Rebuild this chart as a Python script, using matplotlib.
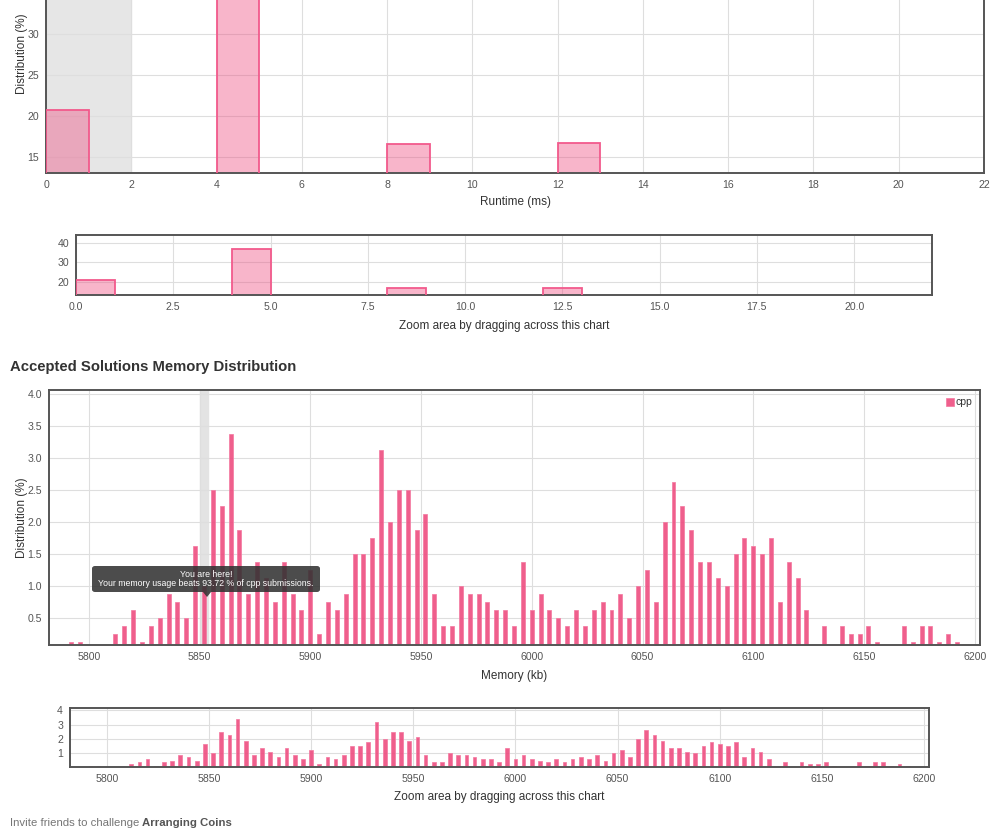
import matplotlib
matplotlib.use("Agg")
import matplotlib.pyplot as plt
from matplotlib.patches import FancyBboxPatch, Polygon

plt.rcParams['font.family'] = ['Liberation Sans', 'DejaVu Sans']

# runtime histogram (ms bins, % of submissions)
rt_bins = [0, 4, 8, 12]
rt_pct = [20.8, 36.7, 16.6, 16.7]
rt_you = (0, 2)

# memory histogram (kb bins, % of submissions)
mem_bins = list(range(5792, 6196, 4))
mem_pct = [0.13, 0.13, 0, 0, 0, 0.25, 0.38, 0.63, 0.13, 0.38,
           0.50, 0.88, 0.75, 0.50, 1.63, 1.00, 2.51, 2.26, 3.39, 1.88,
           0.88, 1.38, 1.13, 0.75, 1.38, 0.88, 0.63, 1.26, 0.25, 0.75,
           0.63, 0.88, 1.51,
           1.51, 1.76, 3.14, 2.01, 2.51, 2.51, 1.88, 2.14, 0.88, 0.38,
           0.38, 1.00, 0.88, 0.88, 0.75, 0.63, 0.63, 0.38, 1.38, 0.63,
           0.88, 0.63, 0.50, 0.38, 0.63, 0.38, 0.63, 0.75, 0.63, 0.88,
           0.50,
           1.00, 1.26, 0.75, 2.01, 2.64, 2.26, 1.88, 1.38, 1.38, 1.13,
           1.00, 1.51, 1.76, 1.63, 1.51, 1.76, 0.75, 1.38, 1.13, 0.63,
           0, 0.38, 0, 0.38, 0.25, 0.25, 0.38, 0.13, 0, 0,
           0.38, 0.13, 0.38, 0.38, 0.13, 0.25, 0.13]
mem_you = (5850, 5854)
beats = 93.72

W, H = 1000, 838
SPINE = '#555555'
GRID = '#dedede'
TICK = '#555555'
LBL = '#333333'
PINK = '#ee4d80'


def box(l, t, r, b):
    # pixel box -> figure fraction rect
    return [l / W, 1 - b / H, (r - l) / W, (b - t) / H]


def style(ax, fs=7.6):
    ax.set_axisbelow(True)
    ax.grid(True, color=GRID, lw=0.8)
    for s in ax.spines.values():
        s.set_color(SPINE)
        s.set_linewidth(1.4)
    ax.tick_params(length=0, labelsize=fs, colors=TICK, pad=5)


fig = plt.figure(figsize=(10, 8.38), dpi=100)
fig.patch.set_facecolor('white')

# --- runtime main chart (top part cut off by the screenshot) ---
ax1 = fig.add_axes(box(46, -48.7, 984, 172.7))
style(ax1)
ax1.axvspan(*rt_you, color='#e6e6e6', zorder=0.5)
ax1.bar(rt_bins, rt_pct, width=1, align='edge', color=PINK, alpha=0.41,
        edgecolor='none', zorder=2)
ax1.bar(rt_bins, rt_pct, width=1, align='edge', facecolor='none',
        edgecolor='#f25a8c', lw=1.3, zorder=3)
ax1.set_xlim(0, 22)
ax1.set_ylim(13.13, 40)
ax1.set_xticks(range(0, 23, 2))
ax1.set_yticks([15, 20, 25, 30])
ax1.axhline(35, color=GRID, lw=0.8, zorder=0.4)
ax1.set_xlabel('Runtime (ms)', fontsize=8.5, color=LBL)
ax1.xaxis.set_label_coords(0.5, -0.105)
ax1.set_ylabel('Distribution (%)', fontsize=8.5, color=LBL)
ax1.yaxis.set_label_coords(-0.019, 0.536)

# --- runtime overview ---
ax2 = fig.add_axes(box(76, 235, 932, 295))
style(ax2)
ax2.bar(rt_bins, rt_pct, width=1, align='edge', color=PINK, alpha=0.41,
        edgecolor='none', zorder=2)
ax2.bar(rt_bins, rt_pct, width=1, align='edge', facecolor='none',
        edgecolor='#f25a8c', lw=1.3, zorder=3)
ax2.set_xlim(0, 22)
ax2.set_ylim(13.07, 44.2)
ax2.set_xticks([0, 2.5, 5, 7.5, 10, 12.5, 15, 17.5, 20])
ax2.set_xticklabels(['0.0', '2.5', '5.0', '7.5', '10.0', '12.5', '15.0', '17.5', '20.0'])
ax2.set_yticks([20, 30, 40])
ax2.set_xlabel('Zoom area by dragging across this chart', fontsize=8.5, color=LBL)
ax2.xaxis.set_label_coords(0.5, -0.41)

fig.text(10 / W, 1 - 367 / H, 'Accepted Solutions Memory Distribution',
         fontsize=10.7, fontweight='bold', color='#333333', va='center')

# --- memory main chart ---
ax3 = fig.add_axes(box(49, 390, 980, 645))
style(ax3)
ax3.axvspan(*mem_you, color='#e3e3e3', zorder=0.5)
ax3.bar(mem_bins, mem_pct, width=1.8, color=PINK, alpha=0.9,
        edgecolor='#f47ba2', lw=0.6, zorder=2, label='cpp')
ax3.set_xlim(5782, 6202.4)
ax3.set_ylim(0.085, 4.07)
ax3.set_xticks(range(5800, 6201, 50))
ax3.set_yticks([0.5, 1.0, 1.5, 2.0, 2.5, 3.0, 3.5, 4.0])
ax3.set_xlabel('Memory (kb)', fontsize=8.5, color=LBL)
ax3.xaxis.set_label_coords(0.5, -0.098)
ax3.set_ylabel('Distribution (%)', fontsize=8.5, color=LBL)
ax3.yaxis.set_label_coords(-0.0226, 0.5)
leg = ax3.legend(loc='upper right', fontsize=7.5, frameon=False,
                 handlelength=0.8, handleheight=0.8, handletextpad=0.2,
                 borderaxespad=0.3, labelcolor=LBL)

# tooltip
tx0, tx1, ty0, ty1 = 92, 320, 566, 592
tip = FancyBboxPatch((tx0 / W, 1 - ty1 / H), (tx1 - tx0) / W, (ty1 - ty0) / H,
                     boxstyle='round,pad=0,rounding_size=0.003',
                     transform=fig.transFigure, fc='#333333', alpha=0.88,
                     ec='none', zorder=10)
fig.patches.append(tip)
ax_x = 207
arrow = Polygon([((ax_x - 4) / W, 1 - ty1 / H), ((ax_x + 4) / W, 1 - ty1 / H),
                 (ax_x / W, 1 - (ty1 + 5) / H)], closed=True,
                transform=fig.transFigure, fc='#333333', alpha=0.88, ec='none',
                zorder=10)
fig.patches.append(arrow)
fig.text((tx0 + tx1) / 2 / W, 1 - 574.5 / H, 'You are here!', color='white',
         fontsize=6.3, ha='center', va='center', zorder=11)
fig.text((tx0 + tx1) / 2 / W, 1 - 583.5 / H,
         'Your memory usage beats %.2f %% of cpp submissions.' % beats,
         color='white', fontsize=6.3, ha='center', va='center', zorder=11)

# --- memory overview ---
ax4 = fig.add_axes(box(70, 708, 929, 767))
style(ax4)
ax4.bar(mem_bins, mem_pct, width=1.8, color=PINK, alpha=0.9,
        edgecolor='#f47ba2', lw=0.6, zorder=2)
ax4.set_xlim(5782, 6202.4)
ax4.set_ylim(0.065, 4.14)
ax4.set_xticks(range(5800, 6201, 50))
ax4.set_yticks([1, 2, 3, 4])
ax4.set_xlabel('Zoom area by dragging across this chart', fontsize=8.5, color=LBL)
ax4.xaxis.set_label_coords(0.5, -0.41)

# footer
t1 = fig.text(10 / W, 1 - 823 / H, 'Invite friends to challenge ', fontsize=8.2,
              color='#757575', va='center')
fig.canvas.draw()
bb = t1.get_window_extent()
fig.text(bb.x1 / W, 1 - 823 / H, 'Arranging Coins', fontsize=8.2,
         fontweight='bold', color='#555555', va='center')

fig.savefig('out.png', dpi=100, facecolor='white')
